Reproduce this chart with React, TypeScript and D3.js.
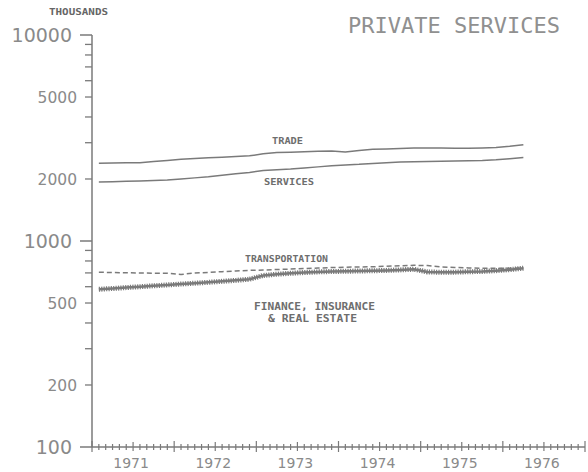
import React from "react";
import * as d3 from "d3";

const startYear = 1971 + 1 / 12;
const step = 2 / 12;

const trade = [2385, 2390, 2395, 2400, 2430, 2460, 2495, 2515, 2535, 2550, 2570, 2590, 2650, 2690, 2700, 2715, 2725, 2735, 2705, 2750, 2785, 2800, 2815, 2828, 2830, 2825, 2818, 2820, 2830, 2845, 2880, 2935];
const services = [1935, 1940, 1948, 1955, 1965, 1978, 2000, 2025, 2050, 2085, 2120, 2150, 2200, 2220, 2235, 2260, 2290, 2320, 2340, 2355, 2380, 2400, 2420, 2428, 2432, 2437, 2442, 2450, 2460, 2480, 2510, 2540];
const transportation = [705, 703, 701, 699, 698, 697, 688, 699, 704, 710, 715, 720, 723, 727, 731, 735, 739, 743, 746, 748, 750, 754, 758, 762, 760, 748, 744, 740, 737, 737, 738, 739];
const finance = [583, 588, 594, 600, 606, 612, 618, 624, 630, 637, 644, 652, 680, 690, 697, 703, 708, 711, 713, 715, 717, 720, 724, 729, 708, 705, 706, 709, 712, 718, 726, 738];

const years = [1971, 1972, 1973, 1974, 1975, 1976];
const majorYTicks = [10000, 1000, 100];
const labeledMinorYTicks = [5000, 2000, 500, 200];

const W = 588;
const H = 472;
const INK = "#7a7a7a";
const TXT = "#8a8a8a";

export default function App() {
  const x = d3.scaleLinear().domain([1971, 1977]).range([92, 585]);
  const y = d3.scaleLog().domain([100, 10000]).range([447, 35]);

  const line = d3
    .line<number>()
    .x((_, i) => x(startYear + i * step))
    .y((d) => y(d))
    .curve(d3.curveLinear);

  const minorY: number[] = [];
  for (const dec of [100, 1000]) {
    for (let k = 2; k <= 9; k++) minorY.push(dec * k);
  }

  const monthTicks: { t: number; kind: number }[] = [];
  for (let yr = 1971; yr < 1977; yr++) {
    for (let m = 0; m < 12; m++) {
      monthTicks.push({ t: yr + m / 12, kind: m === 0 ? 2 : m === 6 ? 1 : 0 });
    }
  }
  monthTicks.push({ t: 1977, kind: 2 });

  const axisY = y(100);
  const axisX = x(1971);

  return (
    <svg
      width={W}
      height={H}
      style={{ position: "absolute", left: 0, top: 0, background: "#fff" }}
    >
      <text
        x={348}
        y={33}
        fontFamily="DejaVu Sans Mono"
        fontSize={21}
        fill="#909090"
        textLength={212}
        lengthAdjust="spacingAndGlyphs"
      >
        PRIVATE SERVICES
      </text>
      <text
        x={49}
        y={15}
        fontFamily="DejaVu Sans Mono"
        fontWeight="bold"
        fontSize={8}
        fill="#666"
        textLength={59}
        lengthAdjust="spacingAndGlyphs"
      >
        THOUSANDS
      </text>

      <line x1={axisX} x2={axisX} y1={y(10000)} y2={axisY} stroke={INK} strokeWidth={1.5} />
      {majorYTicks.map((v) => (
        <g key={"M" + v}>
          <line x1={80} x2={axisX} y1={y(v)} y2={y(v)} stroke={INK} strokeWidth={1.5} />
          <text
            x={72}
            y={y(v) + 7}
            textAnchor="end"
            fontFamily="DejaVu Sans"
            fontSize={19}
            fill={TXT}
          >
            {v}
          </text>
        </g>
      ))}
      {minorY.map((v) => (
        <line key={"m" + v} x1={85} x2={axisX} y1={y(v)} y2={y(v)} stroke={INK} strokeWidth={1.3} />
      ))}
      {labeledMinorYTicks.map((v) => (
        <text
          key={"l" + v}
          x={77}
          y={y(v) + 6}
          textAnchor="end"
          fontFamily="DejaVu Sans"
          fontSize={15.5}
          fill={TXT}
        >
          {v}
        </text>
      ))}

      <line x1={axisX} x2={x(1977)} y1={axisY} y2={axisY} stroke={INK} strokeWidth={1.5} />
      {monthTicks.map((d, i) => (
        <line
          key={"t" + i}
          x1={x(d.t)}
          x2={x(d.t)}
          y1={d.kind === 2 ? axisY - 6 : d.kind === 1 ? axisY - 5 : axisY - 3}
          y2={d.kind === 2 ? axisY + 5 : d.kind === 1 ? axisY + 4 : axisY + 3}
          stroke={INK}
          strokeWidth={1.2}
        />
      ))}
      {years.map((yr) => (
        <text
          key={"y" + yr}
          x={x(yr + 0.5) - 2}
          y={468}
          textAnchor="middle"
          fontFamily="DejaVu Sans"
          fontSize={14}
          fill={TXT}
        >
          {yr}
        </text>
      ))}

      <path d={line(trade) || ""} fill="none" stroke={INK} strokeWidth={1.5} />
      <path d={line(services) || ""} fill="none" stroke={INK} strokeWidth={1.5} />
      <path
        d={line(transportation) || ""}
        fill="none"
        stroke={INK}
        strokeWidth={1.5}
        strokeDasharray="5,3"
      />
      <path d={line(finance) || ""} fill="none" stroke={INK} strokeWidth={2.5} />
      <path
        d={line(finance) || ""}
        fill="none"
        stroke={INK}
        strokeWidth={5}
        strokeDasharray="1.2,1.2"
      />

      {[
        { t: "TRADE", x: 272, y: 144, w: 31 },
        { t: "SERVICES", x: 264, y: 185, w: 50 },
        { t: "TRANSPORTATION", x: 245, y: 262, w: 83 },
        { t: "FINANCE, INSURANCE", x: 254, y: 310, w: 121 },
        { t: "& REAL ESTATE", x: 268, y: 322, w: 89 },
      ].map((l) => (
        <text
          key={l.t}
          x={l.x}
          y={l.y}
          fontFamily="DejaVu Sans Mono"
          fontWeight="bold"
          fontSize={l.t.startsWith("F") || l.t.startsWith("&") ? 10 : 8.5}
          fill="#6e6e6e"
          textLength={l.w}
          lengthAdjust="spacingAndGlyphs"
        >
          {l.t}
        </text>
      ))}
    </svg>
  );
}
